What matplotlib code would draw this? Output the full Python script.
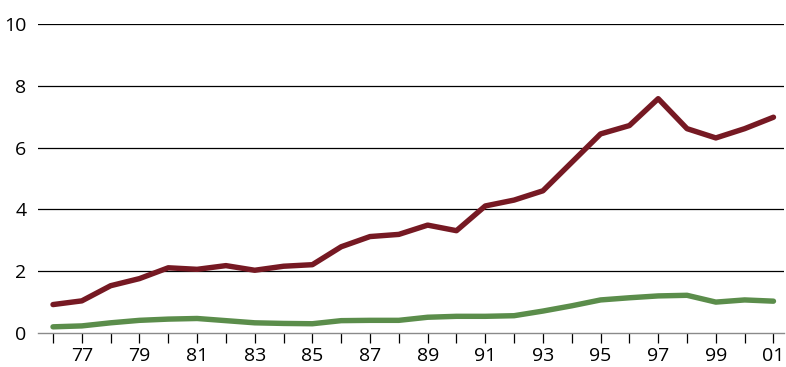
import matplotlib
matplotlib.use("Agg")
import matplotlib.pyplot as plt

# values
years = list(range(1976, 2002))
red_series = [0.92, 1.04, 1.53, 1.76, 2.11, 2.06, 2.18, 2.03, 2.16, 2.21,
              2.79, 3.12, 3.19, 3.49, 3.31, 4.11, 4.30, 4.60, 5.52, 6.44,
              6.71, 7.58, 6.61, 6.31, 6.61, 6.98]
green_series = [0.20, 0.23, 0.33, 0.41, 0.45, 0.47, 0.40, 0.33, 0.31, 0.30,
                0.40, 0.41, 0.41, 0.51, 0.54, 0.54, 0.56, 0.71, 0.88, 1.07,
                1.14, 1.20, 1.22, 1.00, 1.07, 1.03]
y_ticks = [0, 2, 4, 6, 8, 10]

plt.rcParams['font.family'] = ['Open Sans', 'DejaVu Sans']

fig = plt.figure(figsize=(7.86, 3.67), dpi=100)
ax = fig.add_axes([0.048, 0.0926, 0.950, 0.8424])

for y in y_ticks[1:]:
    ax.axhline(y, color="black", lw=0.9, zorder=1)

ax.plot(years, red_series, color="#761923", lw=3.9, zorder=3,
        solid_capstyle="round", clip_on=False)
ax.plot(years, green_series, color="#5b8d4b", lw=3.9, zorder=3,
        solid_capstyle="round", clip_on=False)

ax.set_xlim(1975.47, 2001.38)
ax.set_ylim(0, 10)
ax.set_yticks(y_ticks)
ax.set_yticklabels([str(v) for v in y_ticks])
ax.set_xticks(years)
ax.set_xticklabels([f"{y % 100:02d}" if y % 2 == 1 else "" for y in years])

for s in ["top", "right", "left"]:
    ax.spines[s].set_visible(False)
ax.spines["bottom"].set_color("#8a8a8a")
ax.spines["bottom"].set_linewidth(1.0)

ax.tick_params(axis="y", length=0, pad=8, labelsize=14)
ax.tick_params(axis="x", direction="out", length=7, width=0.9,
               color="black", labelsize=14, pad=3)

fig.savefig("out.png", dpi=100)
